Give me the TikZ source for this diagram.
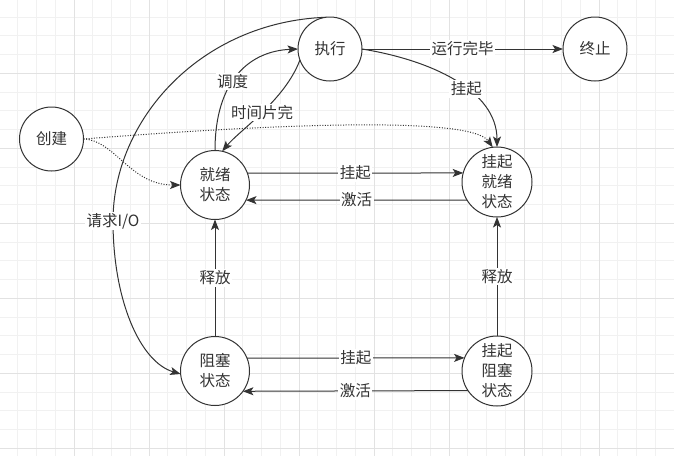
\documentclass[tikz,border=0pt]{standalone}
\usepackage{fontspec}
\setmainfont{Noto Sans CJK SC}
\usetikzlibrary{arrows.meta}
\definecolor{ink}{HTML}{333333}
\definecolor{gminor}{RGB}{241,241,241}
\definecolor{gmajor}{RGB}{226,226,226}
\begin{document}
\begin{tikzpicture}[x=1pt,y=-1pt,
  state/.style={circle,draw=ink,line width=1pt,fill=white,text=ink,align=center,inner sep=0pt,outer sep=0pt,font=\fontsize{15.5}{20}\selectfont},
  small/.style={state,minimum size=64pt},
  big/.style={state,minimum size=69pt},
  conn/.style={draw=ink,line width=1pt,-{Stealth[length=10.5pt,width=8pt,inset=2.5pt]}},
  dots/.style={conn,dash pattern=on 1pt off 1.6pt},
  lab/.style={fill=white,text=ink,inner sep=1.5pt,font=\fontsize{15.5}{18}\selectfont},
  minorgrid/.style={draw=gminor,line width=0.9pt},
  majorgrid/.style={draw=gmajor,line width=0.9pt}
]
\useasboundingbox (0,0) rectangle (674,456);
\fill[white] (0,0) rectangle (674,456);
% grid
\foreach \k in {0,...,36} {
  \draw[minorgrid] ({-1+18.75*\k},0) -- ({-1+18.75*\k},456);
}
\foreach \k in {0,...,25} {
  \draw[minorgrid] (0,{-1.7+18.75*\k}) -- (674,{-1.7+18.75*\k});
}
\foreach \k in {0,...,9} {
  \draw[majorgrid] ({-1+75*\k},0) -- ({-1+75*\k},456);
}
\foreach \k in {0,...,6} {
  \draw[majorgrid] (0,{-1.7+75*\k}) -- (674,{-1.7+75*\k});
}

% states
\node[small] (zx) at (330,49) {执行};
\node[small] (zz) at (595,49) {终止};
\node[small] (cj) at (51.5,139) {创建};
\node[big] (jx) at (215,185) {就绪\\状态};
\node[big,minimum size=70pt] (gjx) at (497,182) {挂起\\就绪\\状态};
\node[big] (zs) at (215,371) {阻塞\\状态};
\node[big,minimum size=70pt] (gzs) at (497,371) {挂起\\阻塞\\状态};

% connectors
\draw[conn] (zx.east) -- node[lab] (l1) {运行完毕} (zz.west);
\draw[conn] (zx.east) .. controls (430,60) and (497,90) .. node[lab,pos=0.58] (l2) {挂起} (gjx.north);
\draw[conn] (jx.north) .. controls (215,80) and (250,51) .. node[lab,pos=0.43] (l3) {调度} (zx.west);
\draw[conn] (zx.200) .. controls (285,100) and (240,130) .. node[lab,pos=0.5] (l4) {时间片完} (jx.78);
\coordinate (io) at (113,221);
\draw[conn] (zx.97) .. controls (200,22) and (113,120) .. (io) .. controls (113,300) and (140,362) .. (zs.185);
\node[lab] (l5) at (io) {请求I/O};
\draw[dots] (cj.east) .. controls (115,140) and (130,185) .. (jx.west);
\draw[dots] (cj.east) .. controls (260,125) and (470,115) .. (gjx.97);
\draw[conn] (jx.20) -- node[lab] (l6) {挂起} (gjx.165);
\draw[conn] (gjx.211) -- node[lab] (l7) {激活} (jx.-26);
\draw[conn] (zs.north) -- node[lab] (l8) {释放} (jx.south);
\draw[conn] (gzs.north) -- node[lab] (l9) {释放} (gjx.south);
\draw[conn] (zs.22.5) -- node[lab] (l10) {挂起} (gzs.158.2);
\draw[conn] (gzs.214.8) -- node[lab] (l11) {激活} (zs.-36);
\end{tikzpicture}
\end{document}
